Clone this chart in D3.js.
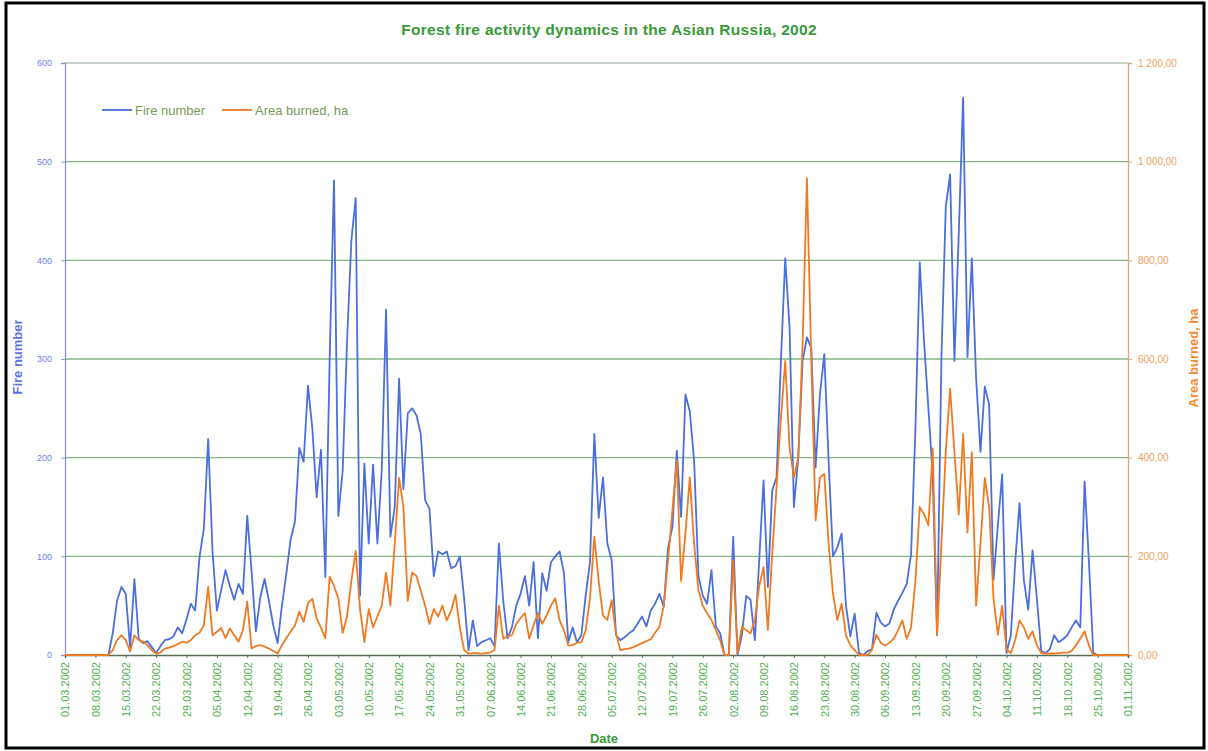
<!DOCTYPE html>
<html>
<head>
<meta charset="utf-8">
<script src="https://cdn.jsdelivr.net/npm/d3@7"></script>
<style>
  body { margin: 0; background: #fff; }
  text { font-family: Arial, "Liberation Sans", sans-serif; }
</style>
</head>
<body>
<svg id="chart" width="1208" height="751"></svg>
<script>
// daily values, 01.03.2002 .. 01.11.2002
const firstDay = '01.03.2002';
const lastDay = '01.11.2002';

const fireNumber = [
  0, 0, 0, 0, 0, 0, 0, 0, 0, 0, 0,
  22, 55, 69, 62, 8, 77, 16, 12, 14, 8,
  2, 9, 15, 16, 19, 28, 22, 36, 52, 45,
  99, 128, 219, 105, 45, 66, 86, 70, 56, 72,
  62, 141, 85, 24, 58, 77, 55, 30, 12, 50,
  82, 117, 135, 210, 196, 273, 230, 160, 208, 79,
  300, 481, 141, 187, 317, 420, 463, 60, 194, 113,
  193, 113, 187, 350, 120, 150, 280, 168, 245, 250,
  243, 224, 157, 148, 80, 105, 102, 105, 88, 90,
  100, 57, 5, 35, 9, 13, 15, 17, 9, 113,
  55, 17, 28, 50, 62, 80, 50, 94, 17, 83,
  65, 94, 100, 105, 83, 13, 28, 13, 20, 60,
  94, 224, 139, 180, 113, 96, 20, 15, 18, 22,
  25, 32, 39, 29, 45, 52, 62, 49, 109, 130,
  207, 140, 264, 247, 197, 80, 60, 52, 86, 29,
  22, 0, 0, 120, 0, 20, 60, 56, 15, 96,
  177, 69, 167, 180, 298, 402, 332, 150, 200, 298,
  322, 311, 190, 264, 305, 197, 100, 109, 123, 50,
  19, 42, 2, 0, 4, 6, 43, 33, 29, 32,
  46, 55, 63, 72, 102, 228, 398, 317, 250, 180,
  20, 302, 454, 487, 298, 428, 565, 302, 402, 280,
  206, 272, 254, 76, 131, 183, 2, 20, 94, 154,
  76, 46, 106, 57, 4, 2, 6, 20, 13, 16,
  20, 28, 35, 28, 176, 94, 2, 0, 0, 0,
  0, 0, 0, 0, 0
];

const areaBurned = [
  0, 0, 0, 0, 0, 0, 0, 0, 0, 0, 0,
  10, 30, 40, 30, 7, 40, 30, 27, 20, 10,
  3, 5, 13, 15, 18, 22, 27, 25, 30, 40,
  45, 60, 138, 40, 47, 55, 34, 54, 40, 27,
  50, 108, 13, 18, 20, 17, 13, 8, 3, 20,
  34, 47, 60, 88, 67, 105, 114, 74, 55, 34,
  159, 140, 115, 45, 78, 150, 211, 93, 26, 93,
  56, 78, 100, 167, 100, 226, 359, 300, 110, 167,
  160, 130, 100, 63, 93, 78, 100, 70, 90, 122,
  56, 10, 3, 4, 4, 3, 4, 5, 10, 100,
  33, 38, 40, 63, 75, 85, 33, 60, 85, 63,
  80, 100, 115, 70, 50, 19, 20, 25, 26, 50,
  115, 240, 150, 80, 71, 111, 44, 10, 12, 13,
  16, 20, 24, 28, 32, 45, 57, 100, 192, 293,
  394, 150, 246, 360, 226, 131, 100, 84, 71, 50,
  30, 0, 0, 192, 3, 57, 50, 44, 71, 140,
  178, 51, 205, 340, 480, 596, 420, 360, 400, 630,
  966, 600, 273, 360, 367, 226, 125, 71, 104, 40,
  20, 10, 0, 0, 0, 11, 41, 25, 19, 25,
  33, 50, 70, 33, 56, 150, 300, 285, 263, 419,
  41, 226, 411, 540, 411, 285, 448, 248, 411, 100,
  226, 359, 300, 115, 41, 100, 11, 4, 30, 70,
  56, 33, 48, 20, 4, 3, 3, 3, 4, 5,
  5, 8, 20, 33, 48, 19, 0, 0, 0, 0,
  0, 0, 0, 0, 0
];

const dateTicks = [
  '01.03.2002', '08.03.2002', '15.03.2002', '22.03.2002', '29.03.2002',
  '05.04.2002', '12.04.2002', '19.04.2002', '26.04.2002', '03.05.2002',
  '10.05.2002', '17.05.2002', '24.05.2002', '31.05.2002', '07.06.2002',
  '14.06.2002', '21.06.2002', '28.06.2002', '05.07.2002', '12.07.2002',
  '19.07.2002', '26.07.2002', '02.08.2002', '09.08.2002', '16.08.2002',
  '23.08.2002', '30.08.2002', '06.09.2002', '13.09.2002', '20.09.2002',
  '27.09.2002', '04.10.2002', '11.10.2002', '18.10.2002', '25.10.2002',
  '01.11.2002'
];
const fireTicks = [0, 100, 200, 300, 400, 500, 600];
const areaTicks = [0, 200, 400, 600, 800, 1000, 1200];

const svg = d3.select('#chart');
const margin = { top: 63, right: 80, bottom: 96, left: 65 };
const width = +svg.attr('width');
const height = +svg.attr('height');
const plotRight = width - margin.right;
const plotBottom = height - margin.bottom;

const parse = d3.timeParse('%d.%m.%Y');
const start = parse(firstDay);
const fireData = fireNumber.map((v, i) => ({ date: d3.timeDay.offset(start, i), value: v }));
const areaData = areaBurned.map((v, i) => ({ date: d3.timeDay.offset(start, i), value: v }));

const x = d3.scaleTime()
  .domain([start, parse(lastDay)])
  .range([margin.left, plotRight]);
const yFire = d3.scaleLinear().domain([0, 600]).range([plotBottom, margin.top]);
const yArea = d3.scaleLinear().domain([0, 1200]).range([plotBottom, margin.top]);

const fmtArea = v => d3.format(',.2f')(v).replace(/,/g, ' ').replace('.', ',');

// outer frame
svg.append('rect')
  .attr('x', 6).attr('y', 3).attr('width', width - 10).attr('height', height - 6)
  .attr('fill', '#fff').attr('stroke', '#000').attr('stroke-width', 3);

// grid
svg.append('g').selectAll('line')
  .data(fireTicks.filter(d => d > 0))
  .join('line')
  .attr('x1', margin.left).attr('x2', plotRight)
  .attr('y1', d => yFire(d)).attr('y2', d => yFire(d))
  .attr('stroke', d => d === 600 ? '#b8c4b8' : '#86b886')
  .attr('stroke-width', 1.3);

// left axis
const gLeft = svg.append('g')
  .attr('transform', `translate(${margin.left},0)`)
  .call(d3.axisLeft(yFire).tickValues(fireTicks).tickSize(4).tickPadding(9));
gLeft.select('.domain').attr('stroke', '#8a96cc').attr('stroke-width', 1.3);
gLeft.selectAll('.tick line').attr('stroke', '#8a96cc');
gLeft.selectAll('.tick text').attr('fill', '#6f82dd').style('font-size', '9px');

// right axis
const gRight = svg.append('g')
  .attr('transform', `translate(${plotRight},0)`)
  .call(d3.axisRight(yArea).tickValues(areaTicks).tickSize(4).tickPadding(6).tickFormat(fmtArea));
gRight.select('.domain').attr('stroke', '#e0a57a').attr('stroke-width', 1.3);
gRight.selectAll('.tick line').attr('stroke', '#e0a57a');
gRight.selectAll('.tick text').attr('fill', '#f0a060').style('font-size', '10px');

// bottom axis
const gBottom = svg.append('g')
  .attr('transform', `translate(0,${plotBottom})`)
  .call(d3.axisBottom(x).tickValues(dateTicks.map(parse)).tickSize(3).tickFormat((d, i) => dateTicks[i]));
gBottom.select('.domain').attr('stroke', '#5a6e5a').attr('stroke-width', 1.5);
gBottom.selectAll('.tick line').attr('stroke', '#5a6e5a');
gBottom.selectAll('.tick text')
  .attr('fill', '#55b055')
  .style('font-size', '11px')
  .attr('text-anchor', 'end')
  .attr('transform', 'rotate(-90)')
  .attr('x', -7).attr('y', 0).attr('dy', '0.35em');

// series
const lineFire = d3.line().x(d => x(d.date)).y(d => yFire(d.value));
const lineArea = d3.line().x(d => x(d.date)).y(d => yArea(d.value));

svg.append('path')
  .datum(fireData)
  .attr('fill', 'none')
  .attr('stroke', '#4b6fdc')
  .attr('stroke-width', 1.8)
  .attr('stroke-linejoin', 'round')
  .attr('d', lineFire);

svg.append('path')
  .datum(areaData)
  .attr('fill', 'none')
  .attr('stroke', '#f07a22')
  .attr('stroke-width', 1.8)
  .attr('stroke-linejoin', 'round')
  .attr('d', lineArea);

// titles
svg.append('text')
  .attr('x', 609).attr('y', 35)
  .attr('text-anchor', 'middle')
  .attr('fill', '#3a9a3a')
  .style('font-size', '15.5px').style('font-weight', 'bold')
  .style('letter-spacing', '0.3px')
  .text('Forest fire activity dynamics in the Asian Russia, 2002');

svg.append('text')
  .attr('transform', 'translate(22,357) rotate(-90)')
  .attr('text-anchor', 'middle')
  .attr('fill', '#5c74dc')
  .style('font-size', '13px').style('font-weight', 'bold')
  .text('Fire number');

svg.append('text')
  .attr('transform', 'translate(1198,358) rotate(-90)')
  .attr('text-anchor', 'middle')
  .attr('fill', '#f08a30')
  .style('font-size', '13px').style('font-weight', 'bold')
  .text('Area burned, ha');

svg.append('text')
  .attr('x', 604).attr('y', 743)
  .attr('text-anchor', 'middle')
  .attr('fill', '#3a9a3a')
  .style('font-size', '13px').style('font-weight', 'bold')
  .text('Date');

// legend
const legend = svg.append('g').attr('transform', 'translate(102,110)');
const items = [
  { label: 'Fire number', color: '#4b6fdc', dx: 0 },
  { label: 'Area burned, ha', color: '#f07a22', dx: 120 }
];
items.forEach(it => {
  legend.append('line')
    .attr('x1', it.dx).attr('x2', it.dx + 30)
    .attr('stroke', it.color).attr('stroke-width', 1.8);
  legend.append('text')
    .attr('x', it.dx + 33).attr('dy', '0.35em')
    .attr('fill', '#7a9a5a')
    .style('font-size', '13px')
    .text(it.label);
});
</script>
</body>
</html>
